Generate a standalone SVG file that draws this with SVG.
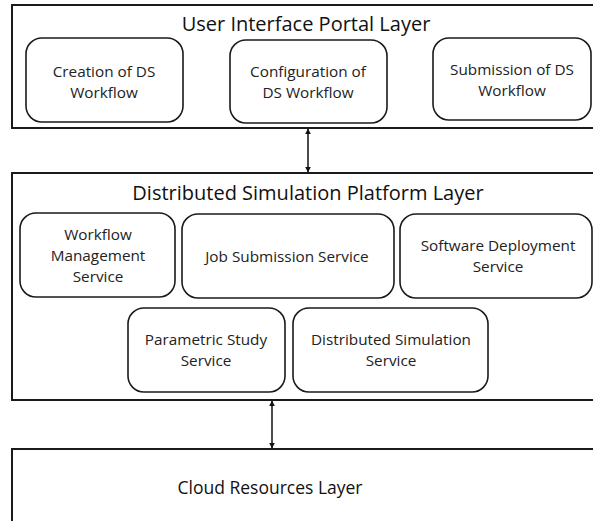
<svg xmlns="http://www.w3.org/2000/svg" width="593" height="521" viewBox="0 0 593 521">
  <style>
    .layer { fill: #ffffff; stroke: #1a1a1a; stroke-width: 2; }
    .box { fill: #ffffff; stroke: #1a1a1a; stroke-width: 1.6; }
    .title { font-family: "Open Sans", "Liberation Sans", sans-serif; font-size: 20px; fill: #111111; text-anchor: middle; }
    .title-sm { font-family: "Open Sans", "Liberation Sans", sans-serif; font-size: 17.5px; fill: #111111; text-anchor: middle; }
    .label { font-family: "Open Sans", "Liberation Sans", sans-serif; font-size: 15.3px; fill: #222222; text-anchor: middle; }
    .conn { stroke: #111111; stroke-width: 1.5; fill: none; marker-start: url(#head); marker-end: url(#head); }
  </style>
  <defs>
    <marker id="head" viewBox="0 0 10 10" refX="9" refY="5" markerWidth="6" markerHeight="6" orient="auto-start-reverse" markerUnits="userSpaceOnUse">
      <path d="M0,0 L10,5 L0,10 Z" fill="#111111"/>
    </marker>
  </defs>
  <rect width="593" height="521" fill="#ffffff"/>

  <!-- User interface layer -->
  <g id="ui-layer">
    <rect class="layer" x="12" y="5" width="600" height="123"/>
    <text class="title" x="306" y="31">User Interface Portal Layer</text>
  </g>
  <g id="creation">
    <rect class="box" x="26" y="38" width="157" height="84" rx="16"/>
    <text class="label" x="104" y="77">Creation of DS</text>
    <text class="label" x="104" y="98">Workflow</text>
  </g>
  <g id="configuration">
    <rect class="box" x="230" y="40" width="157" height="83" rx="16"/>
    <text class="label" x="308" y="77">Configuration of</text>
    <text class="label" x="308" y="98">DS Workflow</text>
  </g>
  <g id="submission">
    <rect class="box" x="433" y="38" width="158" height="82" rx="16"/>
    <text class="label" x="512" y="75">Submission of DS</text>
    <text class="label" x="512" y="96">Workflow</text>
  </g>

  <!-- Platform layer -->
  <g id="platform-layer">
    <rect class="layer" x="12" y="173" width="600" height="227"/>
    <text class="title" x="308" y="200">Distributed Simulation Platform Layer</text>
  </g>
  <g id="workflow-mgmt">
    <rect class="box" x="20" y="213" width="155" height="84" rx="16"/>
    <text class="label" x="98" y="240">Workflow</text>
    <text class="label" x="98" y="261">Management</text>
    <text class="label" x="98" y="282">Service</text>
  </g>
  <g id="job-submission">
    <rect class="box" x="182" y="214" width="212" height="84" rx="16"/>
    <text class="label" x="287" y="262">Job Submission Service</text>
  </g>
  <g id="software-deployment">
    <rect class="box" x="400" y="214" width="192" height="84" rx="16"/>
    <text class="label" x="498" y="251">Software Deployment</text>
    <text class="label" x="498" y="272">Service</text>
  </g>
  <g id="parametric-study">
    <rect class="box" x="128" y="308" width="157" height="84" rx="16"/>
    <text class="label" x="206" y="345">Parametric Study</text>
    <text class="label" x="206" y="366">Service</text>
  </g>
  <g id="ds-service">
    <rect class="box" x="293" y="308" width="195" height="84" rx="16"/>
    <text class="label" x="391" y="345">Distributed Simulation</text>
    <text class="label" x="391" y="366">Service</text>
  </g>

  <!-- Cloud layer -->
  <g id="cloud-layer">
    <rect class="layer" x="12" y="449" width="600" height="100"/>
    <text class="title-sm" x="270" y="494">Cloud Resources Layer</text>
  </g>

  <!-- Connectors between layers -->
  <g id="connectors">
    <line class="conn" x1="308" y1="129" x2="308" y2="172"/>
    <line class="conn" x1="272" y1="401" x2="272" y2="448"/>
  </g>
</svg>
